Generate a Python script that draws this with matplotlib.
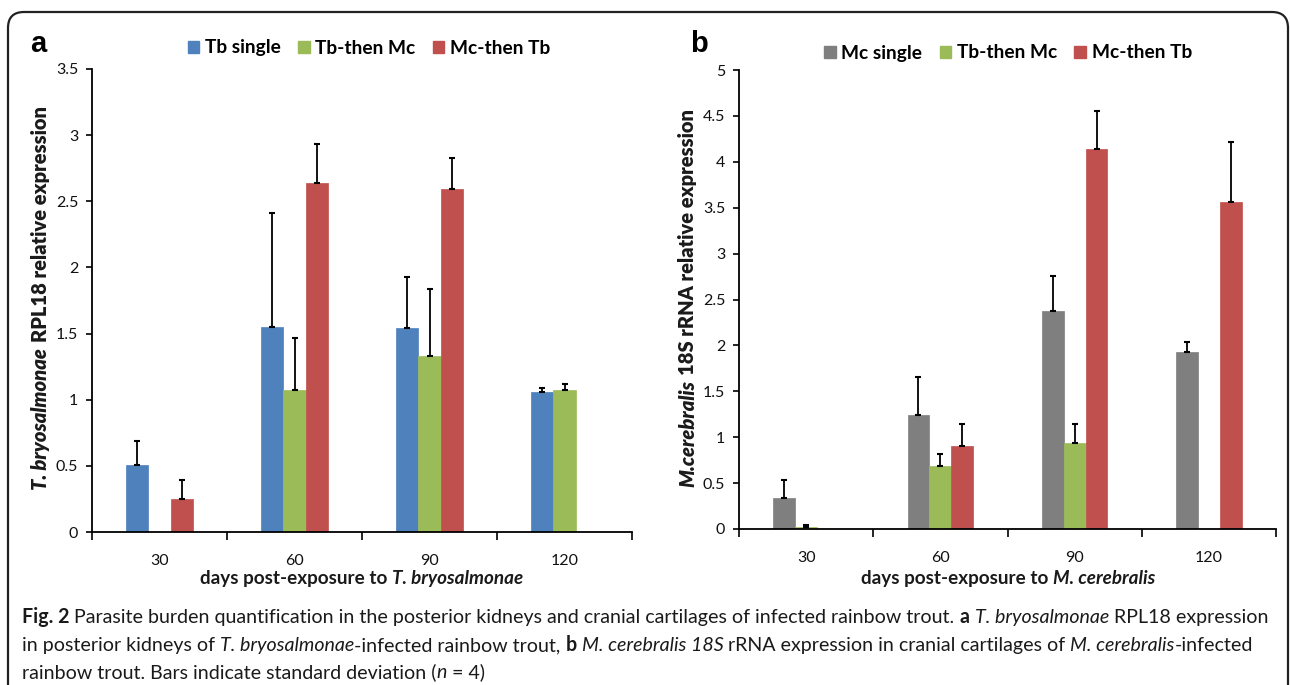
import matplotlib
matplotlib.use('Agg')
import matplotlib.pyplot as plt
import numpy as np
from matplotlib.patches import Patch, FancyBboxPatch
from matplotlib.transforms import IdentityTransform

# ---- data ----
dias = ['30', '60', '90', '120']

a_series = ['Tb single', 'Tb-then Mc', 'Mc-then Tb']
a_valores = [
    [0.51, 1.55, 1.54, 1.06],
    [0.0, 1.07, 1.33, 1.07],
    [0.25, 2.64, 2.59, 0.0],
]
a_sd = [
    [0.18, 0.86, 0.39, 0.03],
    [0.0, 0.40, 0.51, 0.05],
    [0.14, 0.29, 0.24, 0.0],
]

b_series = ['Mc single', 'Tb-then Mc', 'Mc-then Tb']
b_valores = [
    [0.34, 1.24, 2.38, 1.93],
    [0.02, 0.69, 0.94, 0.0],
    [0.0, 0.90, 4.14, 3.56],
]
b_sd = [
    [0.19, 0.42, 0.38, 0.11],
    [0.02, 0.13, 0.20, 0.0],
    [0.0, 0.24, 0.41, 0.66],
]

a_colores = ['#4F81BD', '#9BBB59', '#C0504D']
b_colores = ['#7F7F7F', '#9BBB59', '#C0504D']

FW, FH = 1290, 685
FUENTE = 'Lato'

fig = plt.figure(figsize=(FW / 100, FH / 100), dpi=100)
fig.patch.set_facecolor('white')


def px(x, y):
    # pixel coords of the picture (top origin) -> figure fraction
    return x / FW, 1 - y / FH


def panel(rect, valores, sd, colores, ymax, paso):
    ax = fig.add_axes(rect)
    x = np.arange(len(dias))
    w = 0.163
    for i, (v, s, c) in enumerate(zip(valores, sd, colores)):
        v = np.array(v)
        s = np.array(s)
        pos = x + (i - 1) * w
        ax.bar(pos, v, width=w, color=c, edgecolor=c, linewidth=0.5, zorder=2)
        m = s > 0
        ax.errorbar(pos[m], v[m], yerr=[np.zeros(m.sum()), s[m]], fmt='none',
                    ecolor='black', elinewidth=1.3, capsize=2.5, capthick=1.5, zorder=3)
    ax.set_xlim(-0.5, len(dias) - 0.5)
    ax.set_ylim(0, ymax)
    marcas = np.arange(0, ymax + 0.001, paso)
    ax.set_yticks(marcas)
    ax.set_yticklabels([f'{t:g}' for t in marcas])
    ax.set_xticks(np.arange(-0.5, len(dias), 1.0))
    ax.set_xticklabels([])
    ax.set_xticks(x, minor=True)
    ax.set_xticklabels(dias, minor=True)
    ax.tick_params(axis='x', which='major', length=6, width=1.2, direction='out')
    ax.tick_params(axis='x', which='minor', length=0, pad=16, labelsize=11.5, labelcolor='#111111')
    ax.tick_params(axis='y', length=4, width=1.2, direction='out', pad=6, labelsize=11.5,
                   labelcolor='#111111')
    for lab in ax.get_xticklabels(minor=True) + ax.get_yticklabels():
        lab.set_family(FUENTE)
    for lado in ['top', 'right']:
        ax.spines[lado].set_visible(False)
    for lado in ['left', 'bottom']:
        ax.spines[lado].set_linewidth(1.3)
    return ax


ax_a = panel([92 / FW, 1 - 532 / FH, (632 - 92) / FW, (532 - 69) / FH],
             a_valores, a_sd, a_colores, 3.5, 0.5)
ax_b = panel([739 / FW, 1 - 529 / FH, (1276 - 739) / FW, (529 - 70) / FH],
             b_valores, b_sd, b_colores, 5, 0.5)

for series, colores, cx, cy in [(a_series, a_colores, 369, 48), (b_series, b_colores, 1008, 53)]:
    handles = [Patch(facecolor=c, edgecolor=c) for c in colores]
    fig.legend(handles, series, loc='center', bbox_to_anchor=px(cx, cy), ncol=3, frameon=False,
               handlelength=0.6, handleheight=0.6, handletextpad=0.3, columnspacing=0.9,
               prop={'family': FUENTE, 'weight': 'bold', 'size': 13.8})

fig.text(*px(30, 52), 'a', fontsize=21, fontweight='bold', family='Liberation Sans')
fig.text(*px(690, 52), 'b', fontsize=21, fontweight='bold', family='Liberation Sans')

fig.canvas.draw()
renderer = fig.canvas.get_renderer()


def largo(t, vertical):
    bb = t.get_window_extent(renderer)
    return bb.height if vertical else bb.width


def mixto(x, y, partes, size, rotation=0, centro=True, peso='bold'):
    # draws a run of text pieces with different styles, one after the other
    vertical = rotation != 0
    textos = []
    huecos = []
    for s, estilo in partes:
        hueco = s.startswith(' ')
        s = s.strip()
        t = fig.text(0, 0, s, fontsize=size, family=FUENTE, rotation=rotation,
                     rotation_mode='anchor', ha='left', va='baseline',
                     fontweight=peso if 'b' in estilo else 'normal',
                     fontstyle='italic' if 'i' in estilo else 'normal', color='#1a1a1a')
        textos.append(t)
        huecos.append(hueco)
    ref = fig.text(0, 0, 'x x', fontsize=size, family=FUENTE)
    ref2 = fig.text(0, 0, 'xx', fontsize=size, family=FUENTE)
    esp = largo(ref, False) - largo(ref2, False)
    ref.remove()
    ref2.remove()
    largos = [largo(t, vertical) for t in textos]
    total = sum(largos) + esp * sum(huecos)
    pos = -total / 2 if centro else 0
    for t, L, h in zip(textos, largos, huecos):
        if h:
            pos += esp
        if vertical:
            t.set_position((x / FW, 1 - (y - pos) / FH))
        else:
            t.set_position(((x + pos) / FW, 1 - y / FH))
        pos += L


mixto(47, 298, [('T. bryosalmonae', 'bi'), (' RPL18 relative expression', 'b')], 14.5,
      rotation=90, peso='heavy')
mixto(694, 298, [('M.cerebralis', 'bi'), (' 18S rRNA relative expression', 'b')], 14.5,
      rotation=90, peso='heavy')
mixto(362, 584, [('days post-exposure to', 'b'), (' T. bryosalmonae', 'bi')], 13.6)
mixto(1008, 584, [('days post-exposure to', 'b'), (' M. cerebralis', 'bi')], 13.6)

cap = 14.1
mixto(22, 623, [('Fig. 2', 'b'),
                (' Parasite burden quantification in the posterior kidneys and cranial cartilages of infected rainbow trout.', ''),
                (' a', 'b'), (' T. bryosalmonae', 'i'), (' RPL18 expression', '')], cap, centro=False)
mixto(22, 651, [('in posterior kidneys of', ''), (' T. bryosalmonae', 'i'),
                ('-infected rainbow trout,', ''), (' b', 'b'), (' M. cerebralis 18S', 'i'),
                (' rRNA expression in cranial cartilages of', ''), (' M. cerebralis', 'i'),
                ('-infected', '')], cap, centro=False)
mixto(22, 678, [('rainbow trout. Bars indicate standard deviation (', ''), ('n', 'i'),
                (' = 4)', '')], cap, centro=False)

# rounded frame around the figure, running off the bottom of the picture
marco = FancyBboxPatch((8, -60), 1280, FH - 12 + 60, boxstyle='round,pad=0,rounding_size=16',
                       transform=IdentityTransform(), facecolor='none', edgecolor='#222222',
                       linewidth=1.6)
fig.add_artist(marco)

fig.savefig('out.png', dpi=100)
